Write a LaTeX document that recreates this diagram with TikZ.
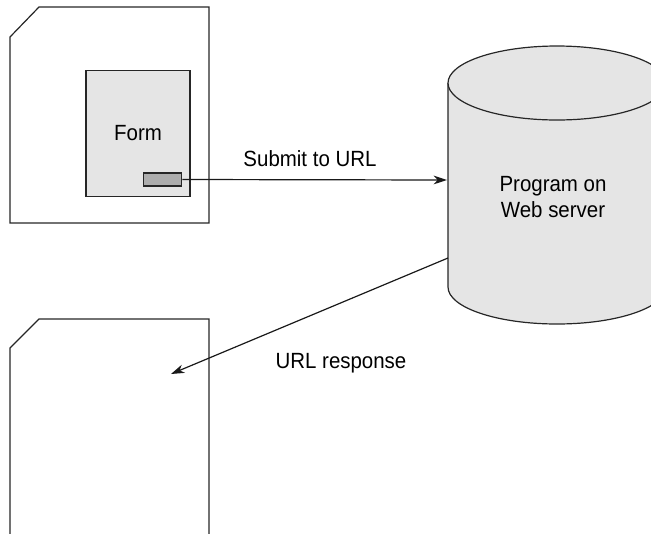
\documentclass[tikz,border=0pt]{standalone}
\usepackage{fontspec}
\setmainfont{Liberation Sans}[FakeStretch=0.93]
\usetikzlibrary{arrows.meta,positioning}

\begin{document}
\begin{tikzpicture}[x=0.75pt, y=-0.75pt,
  page/.style={draw=black!85, line width=0.9pt},
  form/.style={draw=black!85, line width=0.9pt, fill=black!10, font=\fontsize{16.5}{19.5}\selectfont,
               minimum width=78pt, minimum height=95pt, inner sep=0pt},
  btn/.style={draw=black!85, line width=0.9pt, fill=black!32, minimum width=29pt,
              minimum height=9.75pt, inner sep=0pt},
  lbl/.style={font=\fontsize{16.5}{19.5}\selectfont, align=center, inner sep=0pt},
  ar/.style={-{Stealth[length=10pt, width=6.5pt, inset=3pt]}, line width=0.9pt, draw=black!90}
]
\useasboundingbox (0,0) rectangle (651,533);
\clip (0,0) rectangle (651,533);

% pages
\draw[page] (39,7) -- (209,7) -- (209,223) -- (10,223) -- (10,37) -- cycle;
\draw[page] (10,545) -- (10,348) -- (39,319) -- (209,319) -- (209,545);

% form with its button
\node[form] (frm) at (138,133.5) {Form};
\node[btn] (sub) at (162.5,179.5) {};

% server
\fill[black!10] (448,83) -- (448,287) arc[start angle=180, end angle=0, x radius=109, y radius=37]
  -- (666,83) arc[start angle=0, end angle=180, x radius=109, y radius=37] -- cycle;
\draw[page] (448,83) -- (448,287) arc[start angle=180, end angle=0, x radius=109, y radius=37] -- (666,83);
\draw[page, fill=black!10] (557,83) ellipse[x radius=109, y radius=37];
\node[lbl] (srv) at (553,197) {Program on\\Web server};
\coordinate (srvin) at (447,180);
\coordinate (srvout) at (448,258);
\coordinate (back) at (171,374);

\node[lbl] (sublbl) at (310,159) {Submit to URL};
\node[lbl] (resplbl) at (341,363) {URL response};

\draw[ar] (sub.east) -- (srvin);
\draw[ar] (srvout) -- (back);
\end{tikzpicture}
\end{document}
